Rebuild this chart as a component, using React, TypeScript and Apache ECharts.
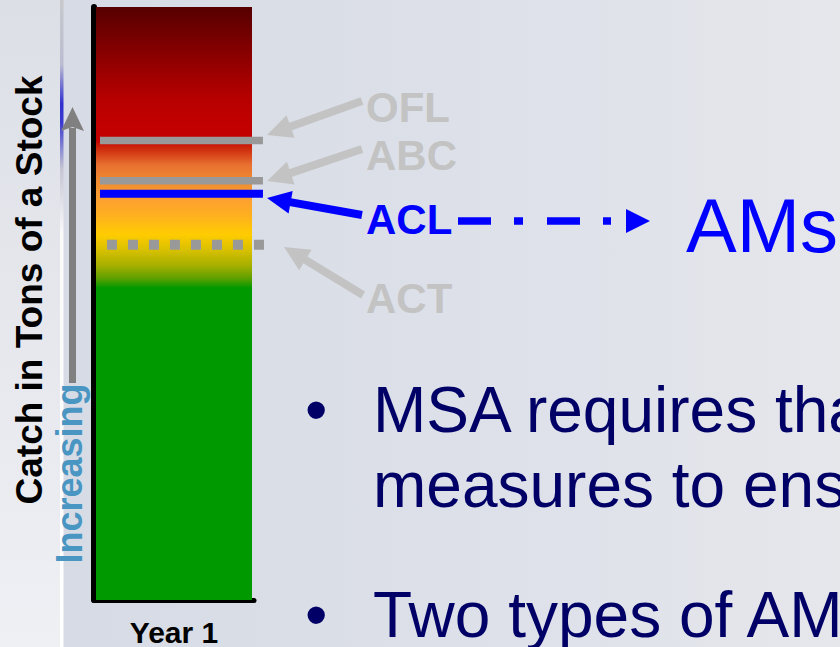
import React, { useEffect, useRef } from "react";
import * as echarts from "echarts";

const categories = ["Year 1"];
const barValues = [100];
const limitNames = ["OFL", "ABC", "ACL", "ACT"];
const limitValues = [77.5, 70.7, 68.5, 59.9];
const yAxisTitle = "Catch in Tons of a Stock";
const arrowWord = "Increasing";
const targetWord = "AMs";
const bulletLines = ["MSA requires tha", "measures to ens", "Two types of AM"];

const FONT = "'Liberation Sans', Arial, sans-serif";

function arrow(x1: number, y1: number, x2: number, y2: number, color: string, width: number, headLen: number, headW: number) {
  const dx = x2 - x1;
  const dy = y2 - y1;
  const len = Math.sqrt(dx * dx + dy * dy);
  const ux = dx / len;
  const uy = dy / len;
  const bx = x2 - ux * headLen;
  const by = y2 - uy * headLen;
  const px = -uy;
  const py = ux;
  return [
    {
      type: "line",
      shape: { x1, y1, x2: bx + ux * 2, y2: by + uy * 2 },
      style: { stroke: color, lineWidth: width },
      z: 5,
    },
    {
      type: "polygon",
      shape: {
        points: [
          [x2, y2],
          [bx + px * headW / 2, by + py * headW / 2],
          [bx - px * headW / 2, by - py * headW / 2],
        ],
      },
      style: { fill: color },
      z: 5,
    },
  ];
}

export default function App() {
  const ref = useRef<HTMLDivElement>(null);
  useEffect(() => {
    if (!ref.current) return;
    const chart = echarts.init(ref.current, null, { renderer: "svg" });
    const gray = "#c3c3c3";
    const labelStyle = (text: string, y: number, color: string) => ({
      type: "text",
      x: 366,
      y,
      style: {
        text,
        fill: color,
        font: `bold 42px ${FONT}`,
        align: "left",
        verticalAlign: "middle",
      },
      z: 6,
    });
    const bulletY = [409.8, 484.8, 614.8];
    const option: any = {
      animation: false,
      backgroundColor: new echarts.graphic.LinearGradient(0, 0, 1, 0, [
        { offset: 0, color: "#d6dae4" },
        { offset: 0.35, color: "#dadee7" },
        { offset: 0.7, color: "#dfe2ea" },
        { offset: 1, color: "#e6e7eb" },
      ]),
      grid: { left: 94, top: 7, width: 160, bottom: 47, containLabel: false },
      xAxis: {
        type: "category",
        data: categories,
        axisLine: { show: true, lineStyle: { color: "#000", width: 5 } },
        axisTick: { show: false },
        axisLabel: {
          margin: 17,
          color: "#000",
          fontFamily: FONT,
          fontWeight: "bold",
          fontSize: 30,
        },
      },
      yAxis: {
        type: "value",
        min: 0,
        max: 100,
        axisLine: { show: true, lineStyle: { color: "#000", width: 6 } },
        axisTick: { show: false },
        axisLabel: { show: false },
        splitLine: { show: false },
      },
      series: [
        {
          type: "bar",
          data: barValues,
          barWidth: 156,
          z: 2,
          itemStyle: {
            color: new echarts.graphic.LinearGradient(0, 0, 0, 1, [
              { offset: 0, color: "#560000" },
              { offset: 0.056, color: "#7a0000" },
              { offset: 0.106, color: "#9a0000" },
              { offset: 0.157, color: "#b80000" },
              { offset: 0.2, color: "#c20000" },
              { offset: 0.224, color: "#c40000" },
              { offset: 0.241, color: "#d03010" },
              { offset: 0.266, color: "#e87030" },
              { offset: 0.292, color: "#f08a30" },
              { offset: 0.325, color: "#fca030" },
              { offset: 0.351, color: "#ffb020" },
              { offset: 0.384, color: "#ffcc00" },
              { offset: 0.41, color: "#d8c000" },
              { offset: 0.435, color: "#a8b000" },
              { offset: 0.457, color: "#60a000" },
              { offset: 0.474, color: "#009900" },
              { offset: 1, color: "#009900" },
            ]),
          },
        },
        {
          type: "custom",
          clip: false,
          z: 3,
          encode: { x: 0, y: 1 },
          data: limitNames.map((n, i) => [0, limitValues[i], i]),
          renderItem: (params: any, api: any) => {
            const idx = api.value(2);
            const c = api.coord([api.value(0), api.value(1)]);
            const band = api.size([1, 0])[0];
            const name = limitNames[idx];
            if (name === "ACT") {
              return {
                type: "line",
                shape: { x1: c[0] - band * 0.419, y1: c[1], x2: c[0] + band * 0.581, y2: c[1] },
                style: { stroke: "#999999", lineWidth: 10, lineDash: [10, 11] },
              };
            }
            const blue = name === "ACL";
            return {
              type: "line",
              shape: { x1: c[0] - band * 0.4625, y1: c[1], x2: c[0] + band * 0.556, y2: c[1] },
              style: { stroke: blue ? "#0000ff" : "#999999", lineWidth: blue ? 8 : 7.5 },
            };
          },
        },
      ],
      graphic: [
        {
          type: "rect",
          shape: { x: 0, y: 0, width: 60, height: 647 },
          style: {
            fill: new echarts.graphic.LinearGradient(0, 0, 0, 1, [
              { offset: 0, color: "#dcdfe6" },
              { offset: 1, color: "#eff0f4" },
            ]),
          },
          z: -5,
        },
        {
          type: "rect",
          shape: { x: 60, y: 0, width: 3.5, height: 647 },
          style: {
            fill: new echarts.graphic.LinearGradient(0, 0, 0, 1, [
              { offset: 0, color: "#c8c8cc" },
              { offset: 0.1, color: "#bcbcd2" },
              { offset: 0.16, color: "#3030d0" },
              { offset: 0.19, color: "#3a3ad0" },
              { offset: 0.26, color: "#c4c4d4" },
              { offset: 0.36, color: "#fafafa" },
              { offset: 1, color: "#ffffff" },
            ]),
          },
          z: -4,
        },
        {
          type: "rect",
          shape: { x: 69, y: 128, width: 7, height: 255 },
          style: { fill: "#808080" },
          z: 4,
        },
        {
          type: "polygon",
          shape: { points: [[72.5, 107], [84, 131], [72.5, 127], [61, 131]] },
          style: { fill: "#808080" },
          z: 4,
        },
        {
          type: "text",
          x: 29.2,
          y: 290,
          rotation: Math.PI / 2,
          style: {
            text: yAxisTitle,
            fill: "#000",
            font: `bold 37px ${FONT}`,
            align: "center",
            verticalAlign: "middle",
          },
          z: 6,
        },
        {
          type: "text",
          x: 69.5,
          y: 473.5,
          rotation: Math.PI / 2,
          style: {
            text: arrowWord,
            fill: "#4a96c3",
            font: `bold 36px ${FONT}`,
            align: "center",
            verticalAlign: "middle",
          },
          z: 6,
        },
        ...arrow(362, 101, 267, 135, gray, 8, 25, 24),
        ...arrow(362, 149, 267, 181, gray, 8, 25, 24),
        ...arrow(362, 215, 267, 198, "#0000ff", 8, 24, 23),
        ...arrow(363, 295, 284, 247, gray, 8, 25, 24),
        labelStyle(limitNames[0], 107.4, gray),
        labelStyle(limitNames[1], 155.4, gray),
        labelStyle(limitNames[2], 219.4, "#0000ff"),
        labelStyle(limitNames[3], 298.4, gray),
        {
          type: "line",
          shape: { x1: 458, y1: 221, x2: 611, y2: 221 },
          style: { stroke: "#0000ff", lineWidth: 7.5, lineDash: [33, 23, 9, 24] },
          z: 5,
        },
        {
          type: "polygon",
          shape: { points: [[626, 209], [650, 221], [626, 233]] },
          style: { fill: "#0000ff" },
          z: 5,
        },
        {
          type: "text",
          x: 686,
          y: 225.7,
          style: {
            text: targetWord,
            fill: "#0000ff",
            font: `76px ${FONT}`,
            align: "left",
            verticalAlign: "middle",
          },
          z: 6,
        },
        ...[0, 2].map((i) => ({
          type: "text",
          x: 305,
          y: bulletY[i],
          style: {
            text: "\u2022",
            fill: "#000066",
            font: `64px ${FONT}`,
            align: "left",
            verticalAlign: "middle",
          },
          z: 6,
        })),
        ...bulletLines.map((t, i) => ({
          type: "text",
          x: 373,
          y: bulletY[i],
          style: {
            text: t,
            fill: "#000066",
            font: `64px ${FONT}`,
            align: "left",
            verticalAlign: "middle",
          },
          z: 6,
        })),
      ],
    };
    chart.setOption(option);
    return () => chart.dispose();
  }, []);
  return (
    <div
      ref={ref}
      style={{ position: "fixed", left: 0, top: 0, width: 840, height: 647 }}
    />
  );
}
